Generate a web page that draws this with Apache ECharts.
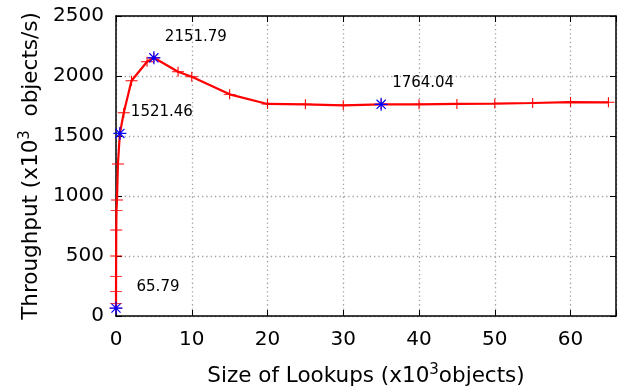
<!DOCTYPE html>
<html>
<head>
<meta charset="utf-8">
<script src="https://cdn.jsdelivr.net/npm/echarts@6/dist/echarts.min.js"></script>
<style>
html,body{margin:0;padding:0;background:#fff;}
#c{width:624px;height:390px;}
</style>
</head>
<body>
<div id="c"></div>
<script>
// Size of lookups (x10^3 objects)
var sizes = [0.001,0.002,0.004,0.008,0.016,0.032,0.064,0.128,0.256,0.512,1.024,2.048,4.096,5,8.192,10,15,20,25,30,35,40,45,50,55,60,65];
// Throughput (x10^3 objects/s)
var throughput = [65.79,105,203,328,500,717,878,967,1267,1521.46,1694,1961,2119,2151.79,2036,1994,1847,1767,1764,1756,1764.04,1764,1767,1770,1775,1783,1781];
// Highlighted points (indices into the arrays above)
var highlightIdx = [0, 9, 13, 20];
var xTicks = [0,10,20,30,40,50,60];
var yTicks = [0,500,1000,1500,2000,2500];

var FONT = 'DejaVu Sans';
var plusPath = 'path://M0 5 L12 5 M6 0 L6 10';
var starPath = 'path://M0 6 L12 6 M6 0 L6 12 M1.8 1.8 L10.2 10.2 M10.2 1.8 L1.8 10.2';

var lineData = sizes.map(function(s,i){return [s, throughput[i]];});
var starData = highlightIdx.map(function(i){return [sizes[i], throughput[i]];});

var gridLine = {show:true, lineStyle:{color:'#a0a0a0', width:1.3, type:[1.3,3]}};
var titleRich = {
  n:{fontSize:21.5, fontFamily:FONT, color:'#000'},
  s:{fontSize:15, fontFamily:FONT, color:'#000', verticalAlign:'top', padding:[0,0,11,0]}
};
var chart = echarts.init(document.getElementById('c'), null, {renderer:'canvas'});
chart.setOption({
  animation:false,
  backgroundColor:'#fff',
  textStyle:{fontFamily:FONT},
  grid:{left:116, right:8, top:16, bottom:74, show:false, containLabel:false, outerBoundsMode:'none'},
  xAxis:[{
    type:'value', min:0, max:66, interval:10, position:'bottom',
    axisLine:{show:true, onZero:false, lineStyle:{color:'#000', width:1.5}},
    axisTick:{show:true, inside:true, length:6, lineStyle:{color:'#000'}},
    axisLabel:{color:'#000', fontSize:20, fontFamily:FONT, margin:14,
      formatter:function(v){return xTicks.indexOf(v)>=0 ? String(v) : '';}},
    splitLine:gridLine,
    name:'{n|Size of Lookups (x10}{s|3}{n|objects)}',
    nameLocation:'middle', nameGap:47,
    nameTextStyle:{rich:titleRich}
  },{
    type:'value', min:0, max:66, interval:10, position:'top',
    axisLine:{show:true, onZero:false, lineStyle:{color:'#000', width:1.5}},
    axisTick:{show:true, inside:true, length:6, lineStyle:{color:'#000'}},
    axisLabel:{show:false}, splitLine:{show:false}
  }],
  yAxis:[{
    type:'value', min:0, max:2500, interval:500, position:'left',
    axisLine:{show:true, onZero:false, lineStyle:{color:'#000', width:1.5}},
    axisTick:{show:true, inside:true, length:6, lineStyle:{color:'#000'}},
    axisLabel:{color:'#000', fontSize:20, fontFamily:FONT, margin:12,
      formatter:function(v){return yTicks.indexOf(v)>=0 ? String(v) : '';}},
    splitLine:gridLine,
    name:'{n|Throughput (x10}{s|3}{n|  objects/s)}',
    nameLocation:'middle', nameGap:72, nameRotate:90,
    nameTextStyle:{rich:titleRich}
  },{
    type:'value', min:0, max:2500, interval:500, position:'right',
    axisLine:{show:true, onZero:false, lineStyle:{color:'#000', width:1.5}},
    axisTick:{show:true, inside:true, length:6, lineStyle:{color:'#000'}},
    axisLabel:{show:false}, splitLine:{show:false}
  }],
  series:[{
    type:'line', xAxisIndex:0, yAxisIndex:0,
    data:lineData,
    showAllSymbol:true,
    symbol:plusPath, symbolSize:[12,10],
    lineStyle:{color:'#ff0000', width:2.2},
    itemStyle:{color:'none', borderColor:'#ff0000', borderWidth:1},
    z:3
  },{
    type:'scatter', xAxisIndex:0, yAxisIndex:0,
    data:starData,
    symbol:starPath, symbolSize:13,
    itemStyle:{color:'none', borderColor:'#0000ff', borderWidth:1.2, opacity:1},
    label:{show:true, position:'inside', offset:[42,-21], fontSize:15, fontFamily:FONT, color:'#000',
      formatter:function(p){return p.value[1].toFixed(2);}},
    z:4
  }]
});
</script>
</body>
</html>
